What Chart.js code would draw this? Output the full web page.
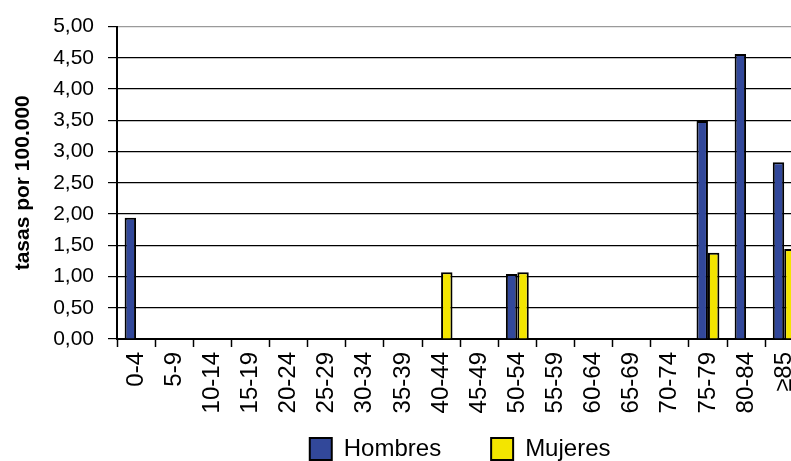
<!DOCTYPE html>
<html>
<head>
<meta charset="utf-8">
<script src="https://cdn.jsdelivr.net/npm/chart.js@4"></script>
<style>
  html, body { margin: 0; padding: 0; background: #fff; overflow: hidden; }
  #wrap { width: 818px; height: 503px; }
</style>
</head>
<body>
<div id="wrap"><canvas id="grafico"></canvas></div>
<script>
// --- datos ---
const grupos = ['0-4', '5-9', '10-14', '15-19', '20-24', '25-29', '30-34', '35-39', '40-44',
                '45-49', '50-54', '55-59', '60-64', '65-69', '70-74', '75-79', '80-84', '≥85'];
const hombres = [1.94, null, null, null, null, null, null, null, null,
                 null, 1.04, null, null, null, null, 3.49, 4.56, 2.83];
const mujeres = [null, null, null, null, null, null, null, null, 1.07,
                 null, 1.07, null, null, null, null, 1.38, null, 1.44];
const etiquetasY = ['0,00', '0,50', '1,00', '1,50', '2,00', '2,50', '3,00', '3,50', '4,00', '4,50', '5,00'];

const colores = {
    azul: '#32489A',
    amarillo: '#F3E500',
    borde: '#000000'
};

Chart.defaults.font.family = '"Liberation Sans", Arial, sans-serif';
Chart.defaults.color = '#000';

// sube la leyenda para que quede pegada a las etiquetas del eje X
const subirLeyenda = {
    id: 'subirLeyenda',
    afterLayout(chart) {
        const l = chart.legend;
        if (!l) return;
        l.top -= 32;
        l.bottom -= 32;
    }
};

new Chart(document.getElementById('grafico'), {
    type: 'bar',
    data: {
        labels: grupos,
        datasets: [
            {
                label: 'Hombres',
                data: hombres,
                backgroundColor: colores.azul,
                borderColor: colores.borde,
                borderWidth: 2,
                borderSkipped: 'bottom'
            },
            {
                label: 'Mujeres',
                data: mujeres,
                backgroundColor: colores.amarillo,
                borderColor: colores.borde,
                borderWidth: 2,
                borderSkipped: 'bottom'
            }
        ]
    },
    options: {
        responsive: true,
        maintainAspectRatio: false,
        animation: false,
        devicePixelRatio: 1,
        layout: { padding: { top: 25, left: 0, right: 0, bottom: 0 } },
        datasets: {
            bar: { categoryPercentage: 0.6, barPercentage: 1.0 }
        },
        plugins: {
            tooltip: { enabled: false },
            legend: {
                position: 'bottom',
                fullSize: false,
                labels: {
                    color: '#000',
                    font: { size: 24 },
                    boxWidth: 22,
                    boxHeight: 22,
                    padding: 50
                }
            }
        },
        scales: {
            x: {
                grid: {
                    offset: true,
                    drawOnChartArea: false,
                    drawTicks: true,
                    tickLength: 8,
                    tickColor: '#000',
                    tickWidth: 1.5
                },
                border: { color: '#000', width: 2 },
                ticks: {
                    autoSkip: false,
                    minRotation: 90,
                    maxRotation: 90,
                    padding: 5,
                    font: { size: 24 },
                    color: '#000'
                },
                afterFit: (escala) => { escala.height = 80; }
            },
            y: {
                min: 0,
                max: 5,
                ticks: {
                    stepSize: 0.5,
                    padding: 14,
                    font: { size: 21 },
                    color: '#000',
                    callback: (valor, i) => etiquetasY[i]
                },
                grid: {
                    color: (ctx) => (ctx.tick && ctx.tick.value === 5 ? '#9a9a9a' : '#000'),
                    lineWidth: 1.2,
                    tickLength: 9,
                    tickColor: '#000'
                },
                border: { color: '#000', width: 2 },
                title: {
                    display: true,
                    text: 'tasas por 100.000',
                    color: '#000',
                    font: { size: 21, weight: 'bold' },
                    padding: { top: 11, bottom: 0 }
                },
                afterFit: (escala) => { escala.width = 117; }
            }
        }
    },
    plugins: [subirLeyenda]
});
</script>
</body>
</html>
